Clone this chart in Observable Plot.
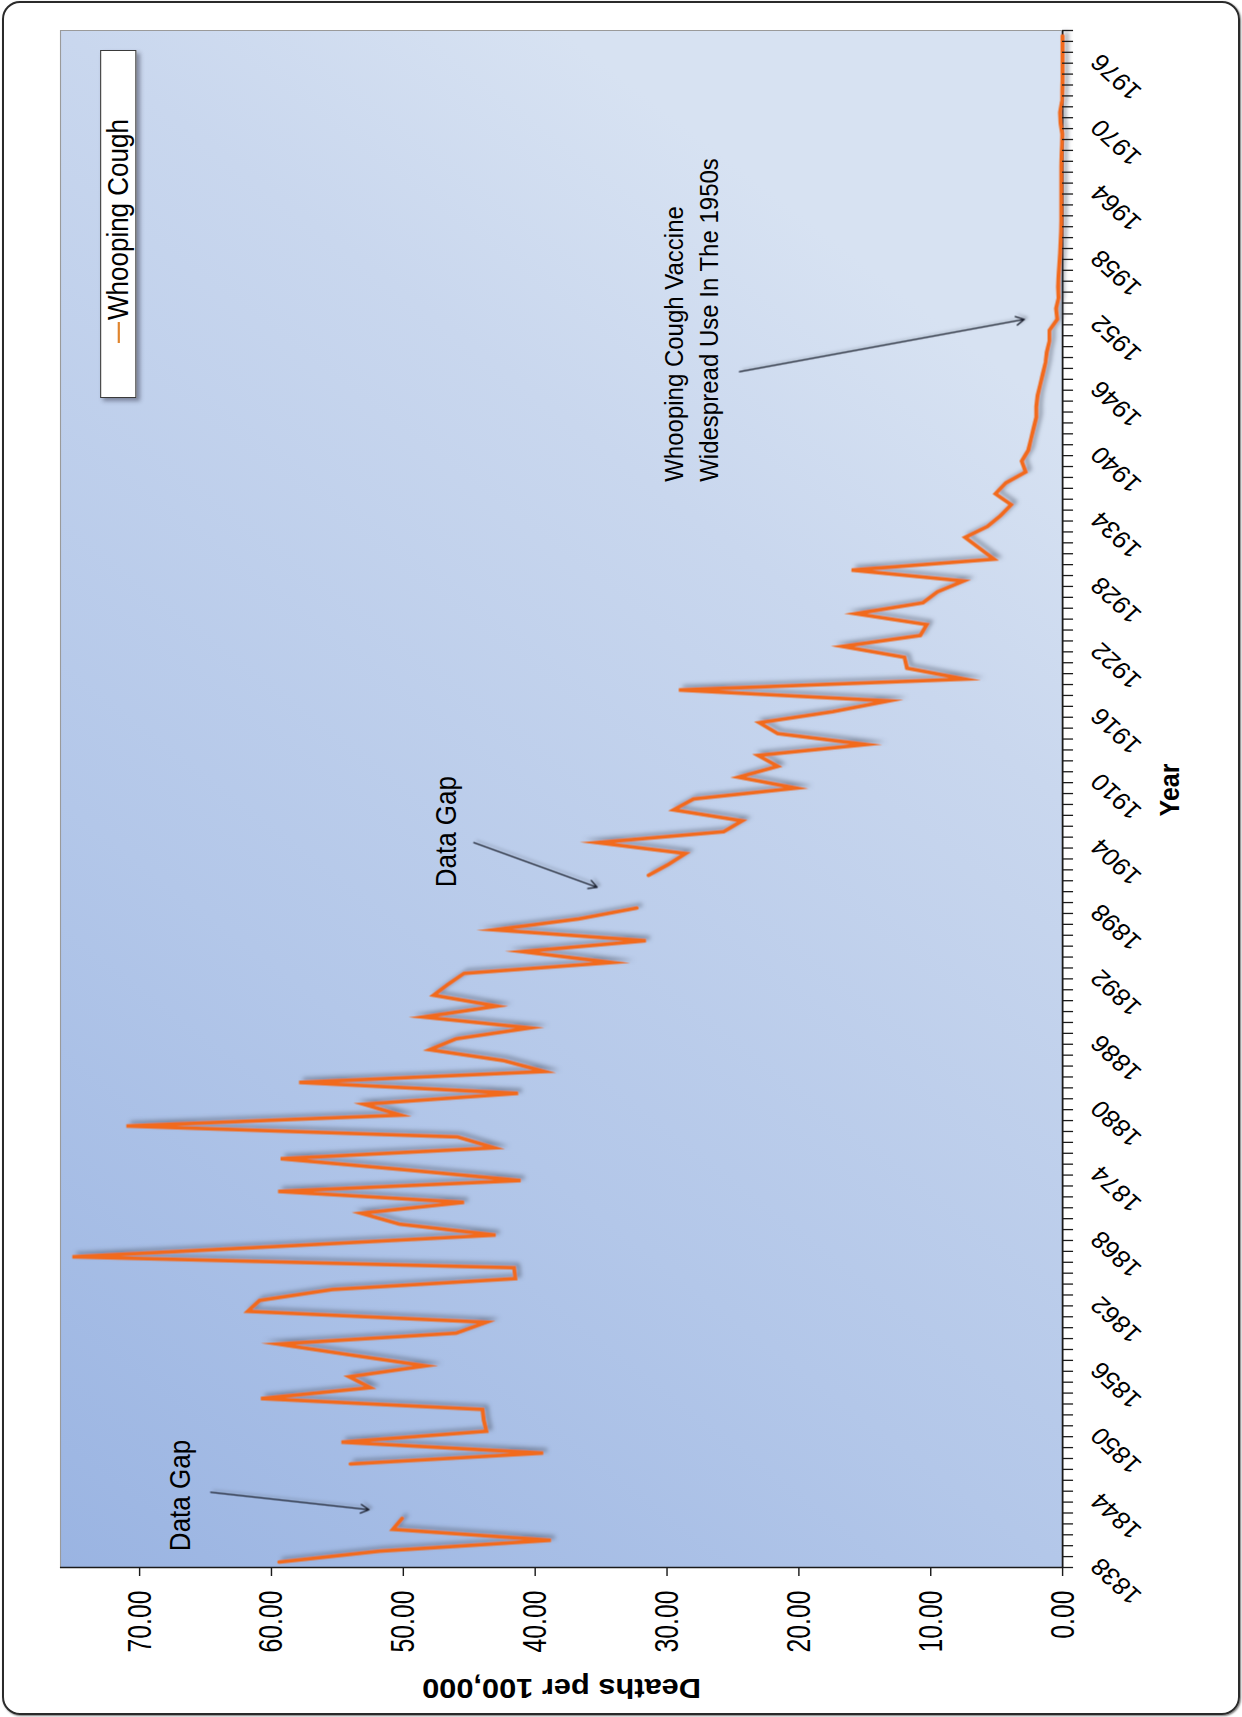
<!DOCTYPE html>
<html>
<head>
<meta charset="utf-8">
<script src="https://cdn.jsdelivr.net/npm/d3@7"></script>
<script src="https://cdn.jsdelivr.net/npm/@observablehq/plot@0.6"></script>
<style>
  html, body { margin: 0; padding: 0; background: #fff; }
  #page { position: relative; width: 1242px; height: 1717px; overflow: hidden; background: #fff; font-family: "Liberation Sans", Arial, sans-serif; }
  #frame { position: absolute; left: 2px; top: 1px; width: 1238px; height: 1714px; box-sizing: border-box; border: 2px solid #2a2a2a; border-radius: 18px; box-shadow: 1px 1px 2px #777; }
  #inner { position: absolute; left: 0; top: 0; width: 1717px; height: 1129px; transform-origin: 0 0; transform: translate(0px, 1717px) rotate(-90deg) scale(1, 1.1); }
  #legend { position: absolute; left: 1319px; top: 91px; width: 348px; height: 33px; box-sizing: border-box; background: #fff; border: 1px solid #3a3a3a; box-shadow: -3px 3px 4px rgba(40,40,60,0.45); display: flex; align-items: center; font-size: 26px; color: #000; }
  #legend .sw { display: inline-block; width: 21px; height: 2px; background: #e0852e; margin-left: 54px; margin-right: 2px; }
</style>
</head>
<body>
<div id="page">
  <div id="frame"></div>
  <div id="inner">
    <div id="chart"></div>
    <div id="legend"><span class="sw"></span><span>Whooping Cough</span></div>
  </div>
</div>
<script>
// ---- data ----
const years = d3.range(1838, 1979);
const deaths = [
  59.4, 51.8, 38.8, 50.8, 50.1, null, null, null, null, 54.0,
  39.4, 54.7, 43.7, 43.9, 44.0, 60.8, 52.5, 54.1, 48.3, 54.0,
  59.5, 46.0, 43.7, 61.8, 60.9, 55.4, 41.5, 41.6, 75.1, 58.8,
  43.0, 50.3, 53.2, 45.4, 59.5, 41.1, 50.0, 59.3, 43.1, 45.9,
  71.0, 50.2, 53.0, 41.3, 57.9, 39.3, 42.4, 48.0, 46.0, 40.4,
  48.5, 42.9, 47.7, 46.6, 45.4, 34.2, 41.0, 31.6, 43.1, 36.7,
  32.3, null, null, 31.4, 29.9, 28.6, 35.3, 25.7, 24.3, 29.5,
  28.0, 20.2, 24.6, 21.6, 23.1, 14.9, 21.6, 23.0, 17.5, 13.2,
  29.1, 7.4, 11.8, 12.0, 16.7, 10.8, 10.3, 15.7, 10.6, 9.5,
  7.5, 16.0, 5.2, 6.3, 7.4, 5.7, 4.7, 3.9, 5.1, 4.3,
  2.8, 3.1, 2.6, 2.4, 2.2, 2.0, 2.0, 1.9, 1.7, 1.5,
  1.3, 1.2, 1.0, 1.0, 0.4, 0.5, 0.3, 0.35, 0.3, 0.25,
  0.2, 0.15, 0.12, 0.1, 0.1, 0.1, 0.1, 0.1, 0.1, 0.08,
  0.05, 0.02, 0.15, 0.2, 0.05, 0.02, 0.01, 0.01, 0.01, 0.01,
  0.01
];
const yearLabels = d3.range(1838, 1977, 6);
const yearBoundaries = d3.range(1837.5, 1979, 1);
const deathTicks = [0, 10, 20, 30, 40, 50, 60, 70];
const gapNotes = [
  {year: 1839.0, value: 66.9, text: "Data Gap"},
  {year: 1899.9, value: 46.7, text: "Data Gap"}
];
const vaccineNote = [{year: 1937.1, value: 28.3, text: "Whooping Cough Vaccine\nWidespread Use In The 1950s"}];
const arrows = [
  {x1: 1844.4, y1: 64.6, x2: 1842.8, y2: 52.6},
  {x1: 1904.0, y1: 44.65, x2: 1899.9, y2: 35.3},
  {x1: 1947.2, y1: 24.5, x2: 1952.0, y2: 2.9}
];
const data = years.map((year, i) => ({year, deaths: deaths[i]}));

const chart = Plot.plot({
  width: 1717,
  height: 1129,
  marginLeft: 149,
  marginRight: 31,
  marginTop: 54.5,
  marginBottom: 163.5,
  style: {background: "transparent", fontFamily: "'Liberation Sans', Arial, sans-serif", color: "#000", overflow: "visible"},
  x: {domain: [1837.5, 1978.5]},
  y: {domain: [0, 76]},
  marks: [
    Plot.frame({fill: "url(#bgGrad)", stroke: "#9a9a9a", strokeWidth: 1}),
    Plot.ruleY([0], {stroke: "#1a1a1a", strokeWidth: 1.6}),
    Plot.ruleX([1837.5], {stroke: "#1a1a1a", strokeWidth: 1.6}),
    Plot.line(data, {x: "year", y: "deaths", stroke: "#f26a1b", strokeWidth: 3.6, strokeLinejoin: "miter", strokeMiterlimit: 10}),
    Plot.axisY({ticks: deathTicks, tickFormat: d => d.toFixed(2), tickSize: 8, tickPadding: 15, fontSize: 31, label: null, stroke: "#1a1a1a", strokeWidth: 1.3}),
    Plot.axisX({ticks: yearBoundaries, tickFormat: () => "", tickSize: 10, label: null, stroke: "#1a1a1a", strokeWidth: 1.3}),
    Plot.axisX({ticks: yearLabels, tickFormat: d => String(d), tickSize: 0, tickRotate: -45, tickPadding: 30, fontSize: 24, label: null}),
    Plot.text(["Deaths per 100,000"], {frameAnchor: "left", textAnchor: "middle", rotate: -90, dx: -120, fontSize: 28, fontWeight: "bold"}),
    Plot.text(["Year"], {frameAnchor: "bottom", dx: 9, dy: 106, fontSize: 25, fontWeight: "bold"}),
    Plot.text(gapNotes, {x: "year", y: "value", text: "text", textAnchor: "start", fontSize: 26}),
    Plot.text(vaccineNote, {x: "year", y: "value", text: "text", textAnchor: "start", fontSize: 24, lineHeight: 1.33}),
    Plot.arrow(arrows, {x1: "x1", y1: "y1", x2: "x2", y2: "y2", stroke: "#1c2230", strokeWidth: 1.3, headLength: 10})
  ]
});
document.getElementById("chart").appendChild(chart);

const svg = d3.select(chart);
svg.insert("defs", ":first-child").html(`
  <linearGradient id="bgGrad" x1="0" y1="0" x2="1" y2="0.5">
    <stop offset="0" stop-color="#9ab4e2"/>
    <stop offset="0.4" stop-color="#b3c7e9"/>
    <stop offset="0.8" stop-color="#c9d7ee"/>
    <stop offset="1" stop-color="#d7e2f2"/>
  </linearGradient>
  <filter id="lineShadow" x="-5%" y="-5%" width="110%" height="110%">
    <feGaussianBlur in="SourceAlpha" stdDeviation="2"/>
    <feOffset dx="3" dy="4" result="off"/>
    <feFlood flood-color="#4d5566" flood-opacity="0.55"/>
    <feComposite in2="off" operator="in"/>
    <feMerge><feMergeNode/><feMergeNode in="SourceGraphic"/></feMerge>
  </filter>
  <filter id="arrowShadow" x="-10%" y="-10%" width="120%" height="120%">
    <feGaussianBlur in="SourceAlpha" stdDeviation="1.5"/>
    <feOffset dx="2" dy="3" result="off"/>
    <feFlood flood-color="#4d5566" flood-opacity="0.4"/>
    <feComposite in2="off" operator="in"/>
    <feMerge><feMergeNode/><feMergeNode in="SourceGraphic"/></feMerge>
  </filter>
`);
svg.selectAll('g[aria-label="line"]').attr("filter", "url(#lineShadow)");
svg.selectAll('g[aria-label="arrow"]').attr("filter", "url(#arrowShadow)");
// narrow tick labels on the deaths axis
svg.selectAll('g[aria-label="y-axis tick label"] text').each(function() {
  const L = this.getComputedTextLength();
  this.setAttribute("textLength", (L * 0.8).toFixed(1));
  this.setAttribute("lengthAdjust", "spacingAndGlyphs");
});
</script>
</body>
</html>
